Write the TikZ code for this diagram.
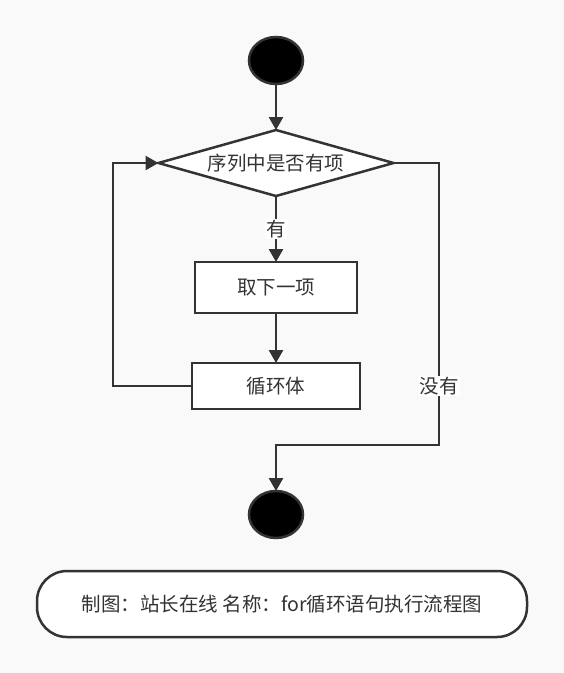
\documentclass[tikz,border=0pt]{standalone}
\usepackage{fontspec}
\setmainfont{Noto Sans CJK SC}
\usetikzlibrary{arrows.meta,shapes.geometric}
\definecolor{bg}{HTML}{F9F9F9}
\definecolor{ink}{HTML}{333333}
\begin{document}
\begin{tikzpicture}[x=1pt,y=-1pt,
  every node/.style={font=\fontsize{19.5}{22}\selectfont, text=ink},
  term/.style={ellipse, draw=ink, line width=2.5pt, fill=black, minimum width=54pt, minimum height=47pt, inner sep=0pt, outer sep=0pt},
  decide/.style={diamond, draw=ink, line width=2.5pt, fill=white, minimum width=235pt, minimum height=66pt, inner sep=0pt, outer sep=0pt, aspect=3.56},
  proc/.style={rectangle, draw=ink, line width=2.5pt, fill=white, inner sep=0pt, outer sep=0pt},
  conn/.style={draw=ink, line width=2.5pt, -{Triangle[length=13pt,width=14pt]}},
  lbl/.style={fill=white, inner sep=1pt},
]
\fill[bg] (0,0) rectangle (564,673);
\useasboundingbox (0,0) rectangle (564,673);
\node[term] (start) at (276,60.5) {};
\node[decide] (dia) at (276,163) {序列中是否有项};
\node[proc, minimum width=162pt, minimum height=51pt] (take) at (276,287.5) {取下一项};
\node[proc, minimum width=168pt, minimum height=46pt] (body) at (276,386) {\raisebox{-2pt}{循环体}};
\node[term] (stop) at (276,514.5) {};
\coordinate (lp) at (113,386);
\coordinate (rp) at (439,445);
\draw[conn] (start) -- (dia.north);
\draw[conn] (dia.south) -- (take.north) node[lbl, pos=0.5] (yes) {有};
\draw[conn] (take.south) -- (body.north);
\draw[conn] (body.west) -- (lp) |- (dia.west);
\draw[conn] (dia.east) -| (rp) -| (stop.north);
\node[lbl] (no) at (439,386) {没有};
\node[rectangle, rounded corners=30pt, draw=ink, line width=2.5pt, fill=white, minimum width=490pt, minimum height=66pt, inner sep=0pt] (cap) at (282,604) {制图：站长在线 名称：for循环语句执行流程图};
\end{tikzpicture}
\end{document}
